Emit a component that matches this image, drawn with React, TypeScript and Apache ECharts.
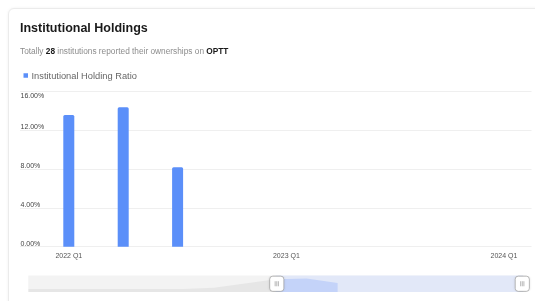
import React, { useEffect, useRef } from 'react';
import * as echarts from 'echarts';

// ---- data ----
const categories = [
  '2020 Q1', '2020 Q2', '2020 Q3', '2020 Q4',
  '2021 Q1', '2021 Q2', '2021 Q3', '2021 Q4',
  '2022 Q1', '2022 Q2', '2022 Q3', '2022 Q4',
  '2023 Q1', '2023 Q2', '2023 Q3', '2023 Q4',
  '2024 Q1',
];
const holdingRatio: (number | null)[] = [
  0, 0, 0, 0,
  0, 0, 1.5, 7.5,
  13.6, 14.4, 8.2, null,
  null, null, null, null,
  null,
];
const seriesName = 'Institutional Holding Ratio';
const chartTitle = 'Institutional Holdings';
const institutionCount = 28;
const ticker = 'OPTT';
const yMin = 0;
const yMax = 16;
const yStep = 4;
const windowStart = '2022 Q1';
const windowEnd = '2024 Q1';

const handleIcon =
  'path://M3,0H11A3,3,0,0,1,14,3V12A3,3,0,0,1,11,15H3A3,3,0,0,1,0,12V3A3,3,0,0,1,3,0Z' +
  'M5.4,5V10M7,5V10M8.6,5V10';

const pct = (v: number) => v.toFixed(2) + '%';

export default function App() {
  const ref = useRef<HTMLDivElement>(null);

  useEffect(() => {
    if (!ref.current) return;
    const chart = echarts.init(ref.current, undefined, { renderer: 'svg' });
    const font = 'Liberation Sans, Arial, Helvetica, sans-serif';
    const yLabel = {
      inside: true,
      margin: 0.5,
      formatter: pct,
      fontSize: 7,
      color: '#444444',
    };
    chart.setOption({
      animation: false,
      textStyle: { fontFamily: font },
      title: [
        {
          text: chartTitle,
          left: 20,
          top: 21.5,
          padding: 0,
          textStyle: { fontSize: 12.5, fontWeight: 'bold', color: '#1a1a1a', fontFamily: font },
        },
        {
          text: `{a|Totally }{b|${institutionCount}}{a| institutions reported their ownerships on }{b|${ticker}}`,
          left: 20,
          top: 46.5,
          padding: 0,
          textStyle: {
            fontFamily: font,
            fontWeight: 'normal',
            rich: {
              a: { fontSize: 8.3, color: '#8c8c8c', fontWeight: 'normal', fontFamily: font },
              b: { fontSize: 8.3, color: '#1a1a1a', fontWeight: 'bold', fontFamily: font },
            },
          },
        },
      ],
      legend: {
        left: 23.5,
        top: 71,
        padding: 0,
        icon: 'rect',
        itemWidth: 4.5,
        itemHeight: 4.5,
        itemGap: 10,
        textStyle: { fontSize: 9.3, color: '#666666', fontFamily: font, padding: [0, 0, 0, -1.5] },
        data: [seriesName],
      },
      grid: [
        { left: 20, right: 3.5, top: 91.7, bottom: 54.3 },
        { left: 41.6, right: 3.8, top: 91.7, bottom: 54.3 },
      ],
      xAxis: [
        { gridIndex: 0, type: 'value', show: false, min: 0, max: 1 },
        {
          gridIndex: 1,
          type: 'category',
          data: categories,
          axisLine: { show: false },
          axisTick: { show: false },
          axisLabel: {
            interval: (_i: number, v: string) => v.endsWith('Q1'),
            fontSize: 7,
            color: '#555555',
            margin: 5,
          },
        },
      ],
      yAxis: [
        {
          gridIndex: 0,
          type: 'value',
          position: 'left',
          min: yMin,
          max: yMax,
          interval: yStep,
          axisLine: { show: false },
          axisTick: { show: false },
          splitLine: { lineStyle: { color: '#efefef', width: 1 } },
          axisLabel: { ...yLabel, verticalAlign: 'bottom', showMaxLabel: false },
        },
        {
          gridIndex: 0,
          type: 'value',
          position: 'left',
          offset: 0,
          min: yMin,
          max: yMax,
          interval: yMax - yMin,
          axisLine: { show: false },
          axisTick: { show: false },
          splitLine: { show: false },
          axisLabel: { ...yLabel, verticalAlign: 'top', showMinLabel: false },
        },
        { gridIndex: 1, type: 'value', min: yMin, max: yMax, interval: yStep, show: false },
      ],
      dataZoom: [
        {
          type: 'slider',
          xAxisIndex: 1,
          startValue: windowStart,
          endValue: windowEnd,
          left: 27,
          right: 13,
          top: 275,
          height: 16.5,
          showDetail: false,
          brushSelect: false,
          moveHandleSize: 0,
          borderColor: 'transparent',
          backgroundColor: '#f3f3f3',
          fillerColor: 'rgba(206,220,255,0.45)',
          handleIcon,
          handleSize: '92%',
          handleStyle: {
            color: '#ffffff',
            borderColor: '#9a9a9a',
            borderWidth: 0.7,
            shadowBlur: 2,
            shadowColor: 'rgba(0,0,0,0.12)',
          },
          dataBackground: {
            lineStyle: { width: 0, opacity: 0 },
            areaStyle: { color: '#e6e6e6', opacity: 1 },
          },
          selectedDataBackground: {
            lineStyle: { width: 0, opacity: 0 },
            areaStyle: { color: '#bccdf4', opacity: 1 },
          },
        },
      ],
      series: [
        {
          type: 'bar',
          name: seriesName,
          xAxisIndex: 1,
          yAxisIndex: 2,
          data: holdingRatio,
          barWidth: 11,
          itemStyle: { color: '#5b8ff9', borderRadius: [1.5, 1.5, 0, 0] },
        },
      ],
    });
    return () => chart.dispose();
  }, []);

  return (
    <>
      <div
        style={{
          position: 'fixed',
          left: 8,
          top: 8,
          width: 580,
          height: 320,
          border: '1px solid #ebebeb',
          borderRadius: 6,
          boxShadow: '0 0 3px rgba(0,0,0,0.06)',
          background: '#ffffff',
          boxSizing: 'border-box',
        }}
      />
      <div ref={ref} style={{ position: 'fixed', left: 0, top: 0, width: 535, height: 301 }} />
    </>
  );
}
